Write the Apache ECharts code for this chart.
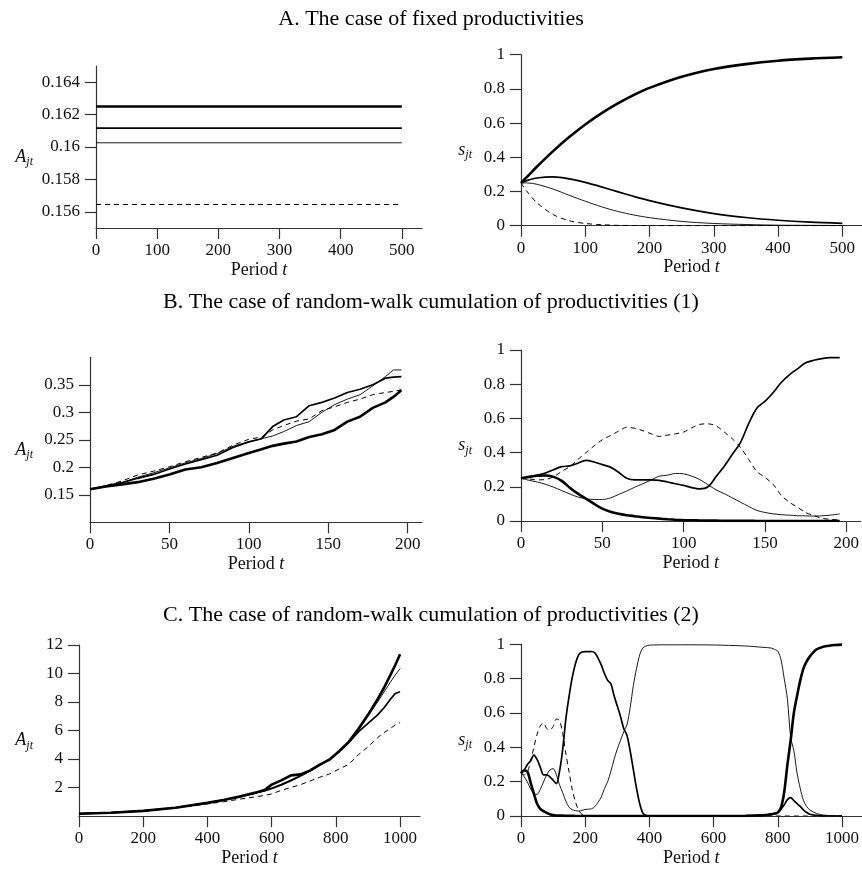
<!DOCTYPE html>
<html><head><meta charset="utf-8">
<script src="https://cdn.jsdelivr.net/npm/echarts@6/dist/echarts.min.js"></script>
<style>html,body{margin:0;padding:0;background:#fff}#c{width:862px;height:870px}</style>
</head><body><div id="c"></div>
<script>
// ---------- Panel titles ----------
const titles = [
  'A. The case of fixed productivities',
  'B. The case of random-walk cumulation of productivities (1)',
  'C. The case of random-walk cumulation of productivities (2)'
];
// ---------- Tick labels ----------
const tickA_L_y = [0.156, 0.158, 0.16, 0.162, 0.164];
const tickA_x = [0, 100, 200, 300, 400, 500];
const tickShare_y = [0, 0.2, 0.4, 0.6, 0.8, 1];
const tickB_L_y = [0.15, 0.2, 0.25, 0.3, 0.35];
const tickB_x = [0, 50, 100, 150, 200];
const tickC_L_y = [2, 4, 6, 8, 10, 12];
const tickC_x = [0, 200, 400, 600, 800, 1000];

// ---------- A: fixed productivities ----------
const periodsA_L = [0, 500];
const A_L_thick  = [0.1625, 0.1625];
const A_L_medium = [0.16117, 0.16117];
const A_L_thin   = [0.16026, 0.16026];
const A_L_dashed = [0.15645, 0.15645];

const periodsA_R = [0, 10, 25, 50, 75, 100, 125, 150, 175, 200, 250, 300, 350, 400, 450, 500];
const A_R_thick  = [0.25, 0.288, 0.346, 0.436, 0.518, 0.592, 0.657, 0.714, 0.764, 0.806, 0.871, 0.916, 0.945, 0.965, 0.977, 0.985];
const A_R_medium = [0.25, 0.265, 0.279, 0.285, 0.274, 0.253, 0.227, 0.199, 0.172, 0.147, 0.104, 0.071, 0.048, 0.032, 0.021, 0.014];
const A_R_thin   = [0.25, 0.250, 0.242, 0.214, 0.178, 0.143, 0.111, 0.084, 0.063, 0.047, 0.025, 0.013, 0.007, 0.003, 0.002, 0.001];
const A_R_dashed = [0.25, 0.197, 0.133, 0.065, 0.029, 0.013, 0.006, 0.002, 0.001, 0, 0, 0, 0, 0, 0, 0];

// ---------- B: random walk (1) ----------
const periodsB_L = [0, 10, 20, 30, 40, 50, 60, 70, 80, 90, 100, 108, 115, 122, 130, 138, 146, 154, 162, 170, 178, 186, 191, 196];
const B_L_thick  = [0.160, 0.165, 0.169, 0.173, 0.179, 0.187, 0.196, 0.200, 0.208, 0.217, 0.226, 0.233, 0.239, 0.243, 0.247, 0.255, 0.260, 0.268, 0.283, 0.292, 0.308, 0.318, 0.328, 0.340];
const B_L_medium = [0.160, 0.166, 0.172, 0.180, 0.187, 0.197, 0.206, 0.214, 0.222, 0.236, 0.246, 0.252, 0.274, 0.286, 0.292, 0.312, 0.318, 0.326, 0.336, 0.342, 0.350, 0.362, 0.364, 0.365];
const B_L_thin   = [0.160, 0.166, 0.172, 0.182, 0.190, 0.199, 0.208, 0.216, 0.225, 0.238, 0.247, 0.252, 0.257, 0.265, 0.276, 0.283, 0.300, 0.314, 0.324, 0.332, 0.348, 0.365, 0.377, 0.377];
const B_L_dashed = [0.160, 0.167, 0.175, 0.186, 0.193, 0.201, 0.210, 0.218, 0.226, 0.240, 0.251, 0.255, 0.268, 0.276, 0.284, 0.288, 0.303, 0.310, 0.318, 0.324, 0.332, 0.336, 0.338, 0.341];

const periodsB_R = [0, 5, 10, 15, 20, 25, 30, 35, 40, 45, 50, 55, 60, 65, 70, 75, 80, 85, 90, 95, 100, 105, 110, 115, 120, 125, 130, 135, 140, 145, 150, 155, 160, 165, 170, 175, 180, 185, 190, 196];
const B_R_thick  = [0.25, 0.258, 0.265, 0.266, 0.258, 0.235, 0.195, 0.16, 0.13, 0.1, 0.072, 0.054, 0.042, 0.034, 0.028, 0.022, 0.018, 0.014, 0.01, 0.007, 0.005, 0.004, 0.003, 0.002, 0.002, 0.001, 0.001, 0.001, 0.001, 0, 0, 0, 0, 0, 0, 0, 0, 0, 0, 0];
const B_R_medium = [0.25, 0.258, 0.268, 0.28, 0.3, 0.318, 0.322, 0.338, 0.355, 0.345, 0.33, 0.315, 0.285, 0.25, 0.24, 0.24, 0.24, 0.238, 0.228, 0.218, 0.208, 0.195, 0.188, 0.2, 0.26, 0.32, 0.39, 0.46, 0.57, 0.66, 0.70, 0.75, 0.81, 0.855, 0.89, 0.925, 0.94, 0.95, 0.955, 0.955];
const B_R_thin   = [0.25, 0.238, 0.228, 0.215, 0.198, 0.178, 0.158, 0.14, 0.13, 0.126, 0.126, 0.135, 0.155, 0.175, 0.198, 0.218, 0.24, 0.262, 0.268, 0.278, 0.276, 0.262, 0.242, 0.212, 0.182, 0.16, 0.135, 0.11, 0.085, 0.062, 0.05, 0.042, 0.037, 0.034, 0.031, 0.03, 0.029, 0.03, 0.034, 0.041];
const B_R_dashed = [0.25, 0.246, 0.24, 0.243, 0.258, 0.29, 0.318, 0.36, 0.4, 0.44, 0.475, 0.5, 0.525, 0.548, 0.542, 0.528, 0.51, 0.495, 0.502, 0.51, 0.52, 0.545, 0.565, 0.568, 0.556, 0.52, 0.48, 0.43, 0.36, 0.29, 0.255, 0.215, 0.15, 0.11, 0.08, 0.05, 0.032, 0.016, 0.01, 0.006];

// ---------- C: random walk (2) ----------
const periodsC_L = [0, 100, 200, 300, 400, 450, 500, 550, 580, 600, 630, 660, 690, 720, 750, 780, 810, 840, 870, 900, 930, 950, 970, 985, 1000];
const C_L_thick  = [0.16, 0.23, 0.36, 0.58, 0.92, 1.12, 1.36, 1.64, 1.85, 2.2, 2.5, 2.85, 2.92, 3.2, 3.6, 3.95, 4.55, 5.2, 6.1, 7.1, 8.2, 9.0, 9.9, 10.6, 11.35];
const C_L_medium = [0.16, 0.23, 0.36, 0.58, 0.92, 1.12, 1.36, 1.62, 1.8, 1.95, 2.2, 2.5, 2.82, 3.18, 3.58, 3.98, 4.5, 5.15, 5.9, 6.5, 7.1, 7.6, 8.2, 8.6, 8.72];
const C_L_thin   = [0.16, 0.23, 0.36, 0.58, 0.92, 1.12, 1.36, 1.6, 1.75, 1.9, 2.15, 2.45, 2.78, 3.15, 3.55, 3.95, 4.5, 5.1, 6.0, 7.0, 8.0, 8.7, 9.4, 9.9, 10.35];
const C_L_dashed = [0.16, 0.23, 0.35, 0.55, 0.85, 1.0, 1.18, 1.35, 1.45, 1.55, 1.8, 2.0, 2.2, 2.46, 2.72, 2.95, 3.3, 3.62, 4.3, 4.85, 5.5, 5.85, 6.15, 6.4, 6.55];

const periodsC_R = [0, 10, 20, 30, 40, 50, 60, 70, 80, 90, 100, 110, 120, 130, 140, 150, 160, 170, 180, 190, 200,
  210, 220, 230, 240, 250, 260, 270, 280, 290, 300, 310, 320, 330, 340, 350, 360, 370, 380, 390, 400,
  450, 500, 600, 700, 750, 780, 790, 800, 810, 820, 830, 840, 850, 860, 870, 880, 890, 900, 920, 940, 960, 980, 1000];
const C_R_thick  = [0.25, 0.265, 0.258, 0.195, 0.13, 0.072, 0.042, 0.028, 0.018, 0.01, 0.005, 0.003, 0.002, 0.002, 0.001, 0.001, 0.001, 0, 0, 0, 0,
  0, 0, 0, 0, 0, 0, 0, 0, 0, 0, 0, 0, 0, 0, 0, 0, 0, 0, 0, 0,
  0, 0, 0, 0.001, 0.004, 0.01, 0.014, 0.02, 0.05, 0.14, 0.30, 0.44, 0.60, 0.70, 0.79, 0.86, 0.90, 0.93, 0.97, 0.985, 0.992, 0.996, 0.998];
const C_R_medium = [0.25, 0.268, 0.3, 0.322, 0.355, 0.33, 0.285, 0.24, 0.24, 0.228, 0.208, 0.188, 0.26, 0.39, 0.57, 0.70, 0.81, 0.89, 0.94, 0.955, 0.957,
  0.957, 0.958, 0.95, 0.92, 0.88, 0.83, 0.79, 0.77, 0.70, 0.64, 0.58, 0.51, 0.47, 0.38, 0.27, 0.16, 0.07, 0.015, 0.003, 0.001,
  0, 0, 0, 0.001, 0.004, 0.009, 0.013, 0.022, 0.04, 0.065, 0.095, 0.107, 0.09, 0.072, 0.056, 0.035, 0.02, 0.01, 0.004, 0.001, 0, 0, 0];
const C_R_thin   = [0.25, 0.228, 0.198, 0.158, 0.13, 0.126, 0.155, 0.198, 0.24, 0.268, 0.276, 0.242, 0.182, 0.135, 0.085, 0.05, 0.037, 0.031, 0.029, 0.033, 0.038,
  0.04, 0.042, 0.055, 0.08, 0.11, 0.16, 0.2, 0.26, 0.33, 0.39, 0.44, 0.49, 0.53, 0.63, 0.76, 0.86, 0.94, 0.98, 0.99, 0.995,
  0.997, 0.997, 0.996, 0.99, 0.983, 0.978, 0.97, 0.96, 0.91, 0.80, 0.68, 0.46, 0.38, 0.25, 0.16, 0.09, 0.055, 0.035, 0.015, 0.006, 0.003, 0.001, 0.001];
const C_R_dashed = [0.25, 0.24, 0.258, 0.318, 0.4, 0.475, 0.525, 0.542, 0.51, 0.502, 0.52, 0.565, 0.556, 0.48, 0.36, 0.255, 0.15, 0.08, 0.032, 0.01, 0.005,
  0.002, 0.001, 0, 0, 0, 0, 0, 0, 0, 0, 0, 0, 0, 0, 0, 0, 0, 0, 0, 0,
  0, 0, 0, 0, 0, 0, 0, 0, 0, 0, 0, 0, 0, 0, 0, 0, 0, 0, 0, 0, 0, 0, 0];

// ---------- build ----------
const FONT = 'Liberation Serif';
const AX = '#333';
const styles = {
  thick:  {color: '#000', width: 2.6, type: 'solid'},
  medium: {color: '#000', width: 1.7, type: 'solid'},
  thin:   {color: '#000', width: 0.9, type: 'solid'},
  dashed: {color: '#000', width: 1.0, type: [5, 4]}
};
function zip(xs, ys) { return xs.map((x, i) => [x, ys[i]]); }
function mkSeries(idx, xs, ys, kind, smooth) {
  return {type: 'line', xAxisIndex: idx, yAxisIndex: idx, data: zip(xs, ys), showSymbol: false,
    symbol: 'none', smooth: smooth, lineStyle: styles[kind], silent: true, z: kind === 'thick' ? 3 : 2};
}
const grids = [
  {left: 96, top: 66, width: 326, height: 162},
  {left: 521, top: 54.7, width: 341, height: 171},
  {left: 90, top: 357.3, width: 332, height: 165},
  {left: 521, top: 350, width: 341, height: 171},
  {left: 79, top: 645, width: 341, height: 171},
  {left: 521, top: 644.3, width: 341, height: 171.7}
];
const plain = v => String(v);
function xAxis(idx, max, ticks) {
  return {type: 'value', gridIndex: idx, min: 0, max: max,
    axisLine: {show: true, onZero: false, lineStyle: {color: AX, width: 1.2}},
    axisTick: {show: true, length: 11, lineStyle: {color: AX, width: 1.2}, customValues: ticks},
    axisLabel: {fontFamily: FONT, fontSize: 17, color: '#111', margin: 14, customValues: ticks, formatter: plain},
    splitLine: {show: false},
    name: 'Period {t|t}', nameLocation: 'middle', nameGap: 33,
    nameTextStyle: {fontFamily: FONT, fontSize: 18, color: '#111',
      rich: {t: {fontFamily: FONT, fontStyle: 'italic', fontSize: 18, color: '#111'}}}
  };
}
function yAxis(idx, min, max, ticks, letter, gap) {
  return {type: 'value', gridIndex: idx, min: min, max: max,
    axisLine: {show: true, onZero: false, lineStyle: {color: AX, width: 1.2}},
    axisTick: {show: true, length: 11, lineStyle: {color: AX, width: 1.2}, customValues: ticks},
    axisLabel: {fontFamily: FONT, fontSize: 17, color: '#111', margin: 16, customValues: ticks, formatter: plain},
    splitLine: {show: false},
    name: '{a|' + letter + '}{b|jt}', nameLocation: 'middle', nameRotate: 0, nameGap: gap,
    nameTextStyle: {padding: [20, 0, 0, 0],
      rich: {a: {fontFamily: FONT, fontStyle: 'italic', fontSize: 18, color: '#111', verticalAlign: 'top', lineHeight: 18},
             b: {fontFamily: FONT, fontStyle: 'italic', fontSize: 12, color: '#111', verticalAlign: 'top', lineHeight: 12, padding: [8, 0, 0, 0]}}}
  };
}
const titleStyle = {fontFamily: FONT, fontSize: 22, fontWeight: 'normal', color: '#000'};
const option = {
  animation: false,
  backgroundColor: '#fff',
  title: [
    {text: titles[0], left: 'center', top: 3, textStyle: titleStyle},
    {text: titles[1], left: 'center', top: 286, textStyle: titleStyle},
    {text: titles[2], left: 'center', top: 599, textStyle: titleStyle}
  ],
  grid: grids,
  xAxis: [
    xAxis(0, 533, tickA_x), xAxis(1, 530.6, tickA_x),
    xAxis(2, 209, tickB_x), xAxis(3, 208.8, tickB_x),
    xAxis(4, 1062, tickC_x), xAxis(5, 1061, tickC_x)
  ],
  yAxis: [
    yAxis(0, 0.155, 0.165, tickA_L_y, 'A', 63),
    yAxis(1, 0, 1, tickShare_y, 's', 49),
    yAxis(2, 0.10, 0.40, tickB_L_y, 'A', 57),
    yAxis(3, 0, 1, tickShare_y, 's', 49),
    yAxis(4, 0, 12, tickC_L_y, 'A', 46),
    yAxis(5, 0, 1, tickShare_y, 's', 49)
  ],
  series: [
    mkSeries(0, periodsA_L, A_L_thick, 'thick', false),
    mkSeries(0, periodsA_L, A_L_medium, 'medium', false),
    mkSeries(0, periodsA_L, A_L_thin, 'thin', false),
    mkSeries(0, periodsA_L, A_L_dashed, 'dashed', false),
    mkSeries(1, periodsA_R, A_R_thick, 'thick', 0.3),
    mkSeries(1, periodsA_R, A_R_medium, 'medium', 0.3),
    mkSeries(1, periodsA_R, A_R_thin, 'thin', 0.3),
    mkSeries(1, periodsA_R, A_R_dashed, 'dashed', 0.3),
    mkSeries(2, periodsB_L, B_L_thick, 'thick', false),
    mkSeries(2, periodsB_L, B_L_medium, 'medium', false),
    mkSeries(2, periodsB_L, B_L_thin, 'thin', false),
    mkSeries(2, periodsB_L, B_L_dashed, 'dashed', false),
    mkSeries(3, periodsB_R, B_R_thick, 'thick', 0.3),
    mkSeries(3, periodsB_R, B_R_medium, 'medium', 0.3),
    mkSeries(3, periodsB_R, B_R_thin, 'thin', 0.3),
    mkSeries(3, periodsB_R, B_R_dashed, 'dashed', 0.3),
    mkSeries(4, periodsC_L, C_L_thick, 'thick', false),
    mkSeries(4, periodsC_L, C_L_medium, 'medium', false),
    mkSeries(4, periodsC_L, C_L_thin, 'thin', false),
    mkSeries(4, periodsC_L, C_L_dashed, 'dashed', false),
    mkSeries(5, periodsC_R, C_R_thick, 'thick', 0.3),
    mkSeries(5, periodsC_R, C_R_medium, 'medium', 0.3),
    mkSeries(5, periodsC_R, C_R_thin, 'thin', 0.3),
    mkSeries(5, periodsC_R, C_R_dashed, 'dashed', 0.3)
  ]
};
const chart = echarts.init(document.getElementById('c'), null, {renderer: 'canvas'});
chart.setOption(option);
</script>
</body></html>
